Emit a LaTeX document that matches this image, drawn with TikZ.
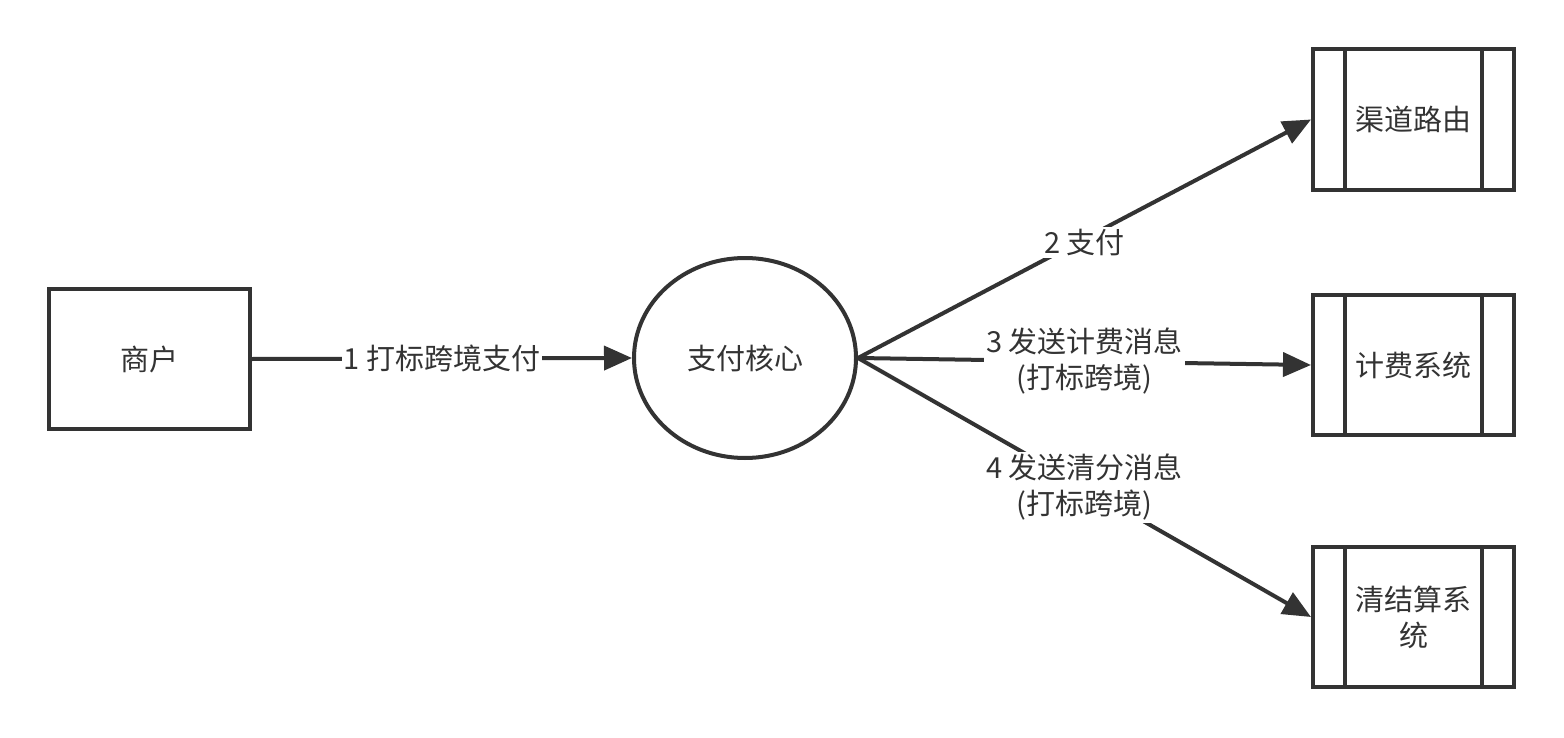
\documentclass[tikz,border=0pt]{standalone}
\usepackage{fontspec}
\setmainfont{Noto Sans CJK SC}
\usetikzlibrary{arrows.meta,shapes.geometric}
\definecolor{ink}{HTML}{333333}
\tikzset{
  base/.style={draw=ink,line width=2pt,text=ink,font=\fontsize{14.5pt}{18pt}\selectfont},
  entity/.style={base,rectangle,minimum width=100.5pt,minimum height=70pt,inner sep=0pt},
  proc/.style={base,ellipse,minimum width=111pt,minimum height=100pt,inner sep=0pt},
  sub/.style={base,rectangle,minimum width=100.5pt,minimum height=70pt,inner sep=0pt,align=center,
    append after command={
      \pgfextra{\draw[ink,line width=2pt]
        ([xshift=17pt]\tikzlastnode.north west) -- ([xshift=17pt]\tikzlastnode.south west)
        ([xshift=-17pt]\tikzlastnode.north east) -- ([xshift=-17pt]\tikzlastnode.south east);}}},
  flow/.style={draw=ink,line width=2pt,-{Triangle[length=14pt,width=12pt]}},
  lbl/.style={fill=white,text=ink,font=\fontsize{14.5pt}{18pt}\selectfont,inner sep=1pt,align=center}
}
\begin{document}
\begin{tikzpicture}[x=0.5pt,y=-0.5pt]
\useasboundingbox[fill=white] (0,0) rectangle (1564,738);
\node[entity] (m) at (149.5,359) {商户};
\node[proc] (core) at (745,358) {支付核心};
\node[sub] (route) at (1413.5,119.5) {渠道路由};
\node[sub] (bill) at (1413.5,365) {计费系统};
\node[sub] (clear) at (1413.5,617) {清结算系\\统};
\draw[flow] (m.east) -- node[lbl] {1 打标跨境支付} (core.west);
\draw[flow] (core.east) -- node[lbl,yshift=-2pt] {2 支付} (route.west);
\draw[flow] (core.east) -- node[lbl] {3 发送计费消息\\(打标跨境)} (bill.west);
\draw[flow] (core.east) -- node[lbl] {4 发送清分消息\\(打标跨境)} (clear.west);
\end{tikzpicture}
\end{document}
